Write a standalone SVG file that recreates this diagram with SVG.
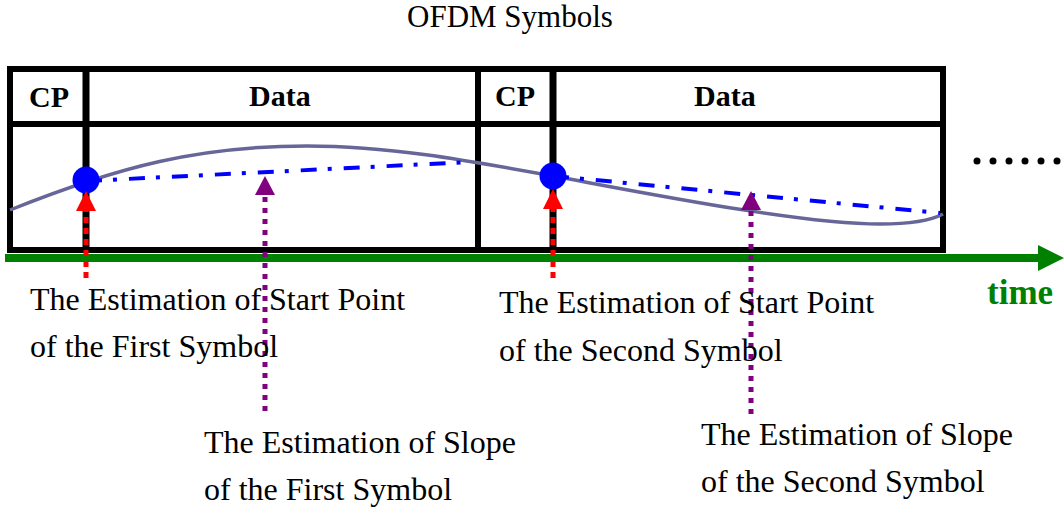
<svg xmlns="http://www.w3.org/2000/svg" width="1064" height="511" viewBox="0 0 1064 511">
<style>
.frame{fill:none;stroke:#000;stroke-width:6}
.div{stroke:#000;stroke-width:7}
.hdr{font-family:"Liberation Serif","Times New Roman",serif;font-weight:bold;font-size:30px;fill:#000}
.lbl{font-family:"Liberation Serif","Times New Roman",serif;font-size:32px;fill:#000}
.est{stroke:#0000ff;stroke-width:4;fill:none;stroke-dasharray:16 11 4 12}
.pt{fill:#0000ff}
.red{stroke:#ff0000;stroke-width:5;stroke-dasharray:6 5;fill:none}
.pur{stroke:#800080;stroke-width:5;stroke-dasharray:5 6;fill:none}
</style>
<defs>
<marker id="mRed" markerUnits="userSpaceOnUse" markerWidth="20" markerHeight="20" refX="0" refY="9" orient="auto" viewBox="0 0 18 18"><path d="M0,0 L18,9 L0,18 z" fill="#ff0000"/></marker>
<marker id="mPur" markerUnits="userSpaceOnUse" markerWidth="20" markerHeight="20" refX="0" refY="9" orient="auto" viewBox="0 0 18 18"><path d="M0,0 L17,9 L0,18 z" fill="#800080"/></marker>
<marker id="mGrn" markerUnits="userSpaceOnUse" markerWidth="26" markerHeight="26" refX="0" refY="12" orient="auto" viewBox="0 0 24 24"><path d="M0,0 L24,12 L0,24 z" fill="#008000"/></marker>
</defs>

<text x="407" y="27" class="lbl" style="font-size:31px">OFDM Symbols</text>

<g id="symbol1">
<rect class="frame" x="10" y="69" width="468" height="181"/>
<line class="frame" x1="10" y1="124" x2="478" y2="124"/>
<line class="div" x1="86" y1="69" x2="86" y2="250"/>
<text x="29" y="107" class="hdr">CP</text>
<text x="249" y="106" class="hdr">Data</text>
</g>

<g id="symbol2">
<rect class="frame" x="478" y="69" width="465" height="181"/>
<line class="frame" x1="478" y1="124" x2="943" y2="124"/>
<line class="div" x1="553" y1="69" x2="553" y2="250"/>
<text x="495" y="106" class="hdr">CP</text>
<text x="694" y="106" class="hdr">Data</text>
</g>

<g id="more">
<circle cx="977" cy="161" r="3.5"/>
<circle cx="993" cy="161" r="3.5"/>
<circle cx="1009" cy="161" r="3.5"/>
<circle cx="1025" cy="161" r="3.5"/>
<circle cx="1041" cy="161" r="3.5"/>
<circle cx="1057" cy="161" r="3.5"/>
</g>

<g id="timeaxis">
<line x1="5" y1="258" x2="1038" y2="258" stroke="#008000" stroke-width="8" marker-end="url(#mGrn)"/>
<text x="987" y="304" style="font-family:'Liberation Serif','Times New Roman',serif;font-weight:bold;font-size:35px;fill:#008000">time</text>
</g>

<g id="signal">
<path d="M10,210 C120,166 200,146 307,146 C390,146 470,161 553,176 C640,192 800,224 880,224 C910,224 930,221 943,214" fill="none" stroke="#666699" stroke-width="3.5"/>
<line class="est" x1="86" y1="181" x2="470" y2="162"/>
<line class="est" x1="553" y1="176" x2="940" y2="213"/>
<circle class="pt" cx="86" cy="180" r="13.5"/>
<circle class="pt" cx="553" cy="176" r="13.5"/>
</g>

<g id="connectors">
<line class="red" x1="86" y1="278" x2="86" y2="211" marker-end="url(#mRed)"/>
<line class="red" x1="553" y1="278" x2="553" y2="209" marker-end="url(#mRed)"/>
<line class="pur" x1="265" y1="411" x2="265" y2="195" marker-end="url(#mPur)"/>
<line class="pur" x1="751" y1="414" x2="751" y2="210" marker-end="url(#mPur)"/>
</g>

<g id="label-start1">
<text x="30" y="310" class="lbl">The Estimation of Start Point</text>
<text x="30" y="357" class="lbl">of the First Symbol</text>
</g>
<g id="label-start2">
<text x="499" y="313" class="lbl">The Estimation of Start Point</text>
<text x="499" y="361" class="lbl">of the Second Symbol</text>
</g>
<g id="label-slope1">
<text x="204" y="453" class="lbl">The Estimation of Slope</text>
<text x="204" y="500" class="lbl">of the First Symbol</text>
</g>
<g id="label-slope2">
<text x="701" y="445" class="lbl">The Estimation of Slope</text>
<text x="701" y="492" class="lbl">of the Second Symbol</text>
</g>
</svg>
